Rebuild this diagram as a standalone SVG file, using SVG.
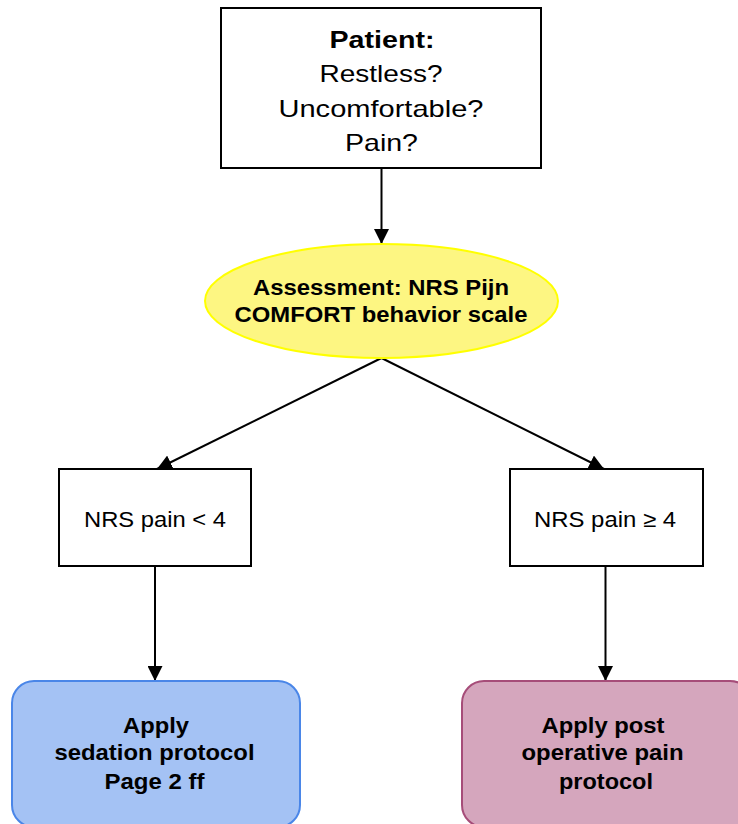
<svg xmlns="http://www.w3.org/2000/svg" width="738" height="824" viewBox="0 0 738 824">
  <style>
    .box { fill: #ffffff; stroke: #000000; stroke-width: 2; }
    .t { font-family: "Liberation Sans", Arial, sans-serif; fill: #000000; text-anchor: middle; }
    .b { font-weight: bold; }
    .conn { stroke: #000000; stroke-width: 2; fill: none; marker-end: url(#arrow); }
  </style>
  <defs>
    <marker id="arrow" viewBox="0 0 10 10" refX="10" refY="5" markerUnits="userSpaceOnUse" markerWidth="15" markerHeight="15" orient="auto">
      <path d="M0,0 L10,5 L0,10 z" fill="#000000"/>
    </marker>
  </defs>

  <g id="connectors">
    <line class="conn" x1="381.5" y1="168" x2="381.5" y2="244"/>
    <line class="conn" x1="381.5" y1="358" x2="157" y2="469"/>
    <line class="conn" x1="381.5" y1="358" x2="604" y2="469"/>
    <line class="conn" x1="155" y1="566" x2="155" y2="681"/>
    <line class="conn" x1="605.5" y1="566" x2="605.5" y2="681"/>
  </g>

  <g id="patient">
    <rect class="box" x="221" y="8" width="320" height="160"/>
    <text class="t b" x="382" y="48" font-size="24" textLength="105" lengthAdjust="spacingAndGlyphs">Patient:</text>
    <text class="t" x="381" y="82" font-size="24" textLength="123" lengthAdjust="spacingAndGlyphs">Restless?</text>
    <text class="t" x="381" y="116.5" font-size="24" textLength="205" lengthAdjust="spacingAndGlyphs">Uncomfortable?</text>
    <text class="t" x="381.5" y="151" font-size="24" textLength="73" lengthAdjust="spacingAndGlyphs">Pain?</text>
  </g>

  <g id="assessment">
    <ellipse cx="381.5" cy="301" rx="176.5" ry="57" fill="#fdf682" stroke="#ffff00" stroke-width="2"/>
    <text class="t b" x="381" y="295" font-size="22" textLength="256" lengthAdjust="spacingAndGlyphs">Assessment: NRS Pijn</text>
    <text class="t b" x="381" y="321.5" font-size="22" textLength="293" lengthAdjust="spacingAndGlyphs">COMFORT behavior scale</text>
  </g>

  <g id="nrs-low">
    <rect class="box" x="59" y="469" width="192" height="97"/>
    <text class="t" x="155" y="526.5" font-size="22" textLength="142" lengthAdjust="spacingAndGlyphs">NRS pain &lt; 4</text>
  </g>

  <g id="nrs-high">
    <rect class="box" x="510" y="469" width="193" height="97"/>
    <text class="t" x="605" y="526.5" font-size="22" textLength="142" lengthAdjust="spacingAndGlyphs">NRS pain ≥ 4</text>
  </g>

  <g id="sedation">
    <rect x="12" y="681" width="288" height="146" rx="22" ry="22" fill="#a4c2f4" stroke="#4a86e8" stroke-width="2"/>
    <text class="t b" x="156" y="733" font-size="22" textLength="66" lengthAdjust="spacingAndGlyphs">Apply</text>
    <text class="t b" x="154.5" y="760" font-size="22" textLength="200" lengthAdjust="spacingAndGlyphs">sedation protocol</text>
    <text class="t b" x="154.5" y="789" font-size="22" textLength="100" lengthAdjust="spacingAndGlyphs">Page 2 ff</text>
  </g>

  <g id="postop">
    <rect x="462" y="681" width="290" height="146" rx="22" ry="22" fill="#d5a6bd" stroke="#a64d79" stroke-width="2"/>
    <text class="t b" x="603" y="733" font-size="22" textLength="123" lengthAdjust="spacingAndGlyphs">Apply post</text>
    <text class="t b" x="602.5" y="760" font-size="22" textLength="162" lengthAdjust="spacingAndGlyphs">operative pain</text>
    <text class="t b" x="606" y="789" font-size="22" textLength="94" lengthAdjust="spacingAndGlyphs">protocol</text>
  </g>
</svg>
